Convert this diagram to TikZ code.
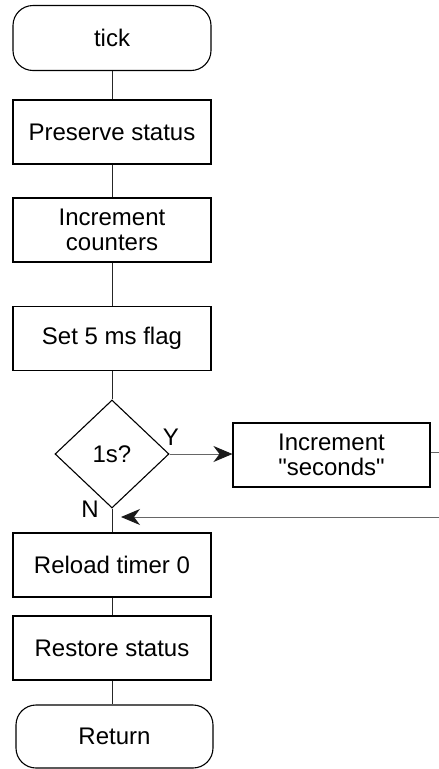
\documentclass[tikz,border=0pt]{standalone}
\usepackage{fontspec}
\setmainfont{Liberation Sans}[Ligatures=TeXOff]
\usetikzlibrary{shapes.geometric,arrows.meta}
\begin{document}
\begin{tikzpicture}[x=1pt,y=-1pt,
  font=\fontsize{24}{28}\selectfont,
  procbox/.style={draw, line width=1.1pt, minimum width=198pt, minimum height=64pt, inner sep=0pt, align=center},
  termbox/.style={draw, line width=1.1pt, rounded corners=20pt, minimum width=198pt, minimum height=65pt, inner sep=0pt, align=center},
  decbox/.style={draw, diamond, line width=1.1pt, minimum width=114pt, minimum height=108pt, inner sep=0pt},
  link/.style={line width=0.9pt, draw=black!85},
  glink/.style={line width=0.9pt, draw=black!60},
  arr/.style={-{Stealth[length=19pt,width=16pt,inset=6pt,color=black!90]}}
]
\useasboundingbox (0,0) rectangle (439,769);
\node[termbox] (tick) at (112,38) {tick};
\node[procbox] (pres) at (112,132) {Preserve status};
\node[procbox] (incc) at (112,230) {Increment\\[-3pt]counters};
\node[procbox] (set5) at (112,338.5) {Set 5 ms flag};
\node[decbox] (dec) at (112,454) {1s?};
\node[procbox, minimum width=197pt] (incs) at (331.5,455) {Increment\\[-3pt]"seconds"};
\node[procbox] (reload) at (112,565) {Reload timer 0};
\node[procbox] (rest) at (112,648) {Restore status};
\node[termbox, minimum height=63pt, minimum width=197pt] (ret) at (114.5,736.5) {Return};
\node (ylab) at (171,437) {Y};
\node (nlab) at (90,509) {N};
\coordinate (out) at (439,452);
\coordinate (back) at (439,517);
\coordinate (tip) at (121,517);
\draw[link] (tick) -- (pres);
\draw[link] (pres) -- (incc);
\draw[link] (incc) -- (set5);
\draw[link] (set5) -- (dec);
\draw[glink,arr] (dec.east) -- (incs.west |- dec.east);
\draw[glink] (incs.east |- out) -- (out);
\draw[glink,arr] (back) -- (tip);
\draw[link] (dec.south) -- (reload);
\draw[link] (reload) -- (rest);
\draw[link] (rest) -- (ret.north -| rest);
\end{tikzpicture}
\end{document}
